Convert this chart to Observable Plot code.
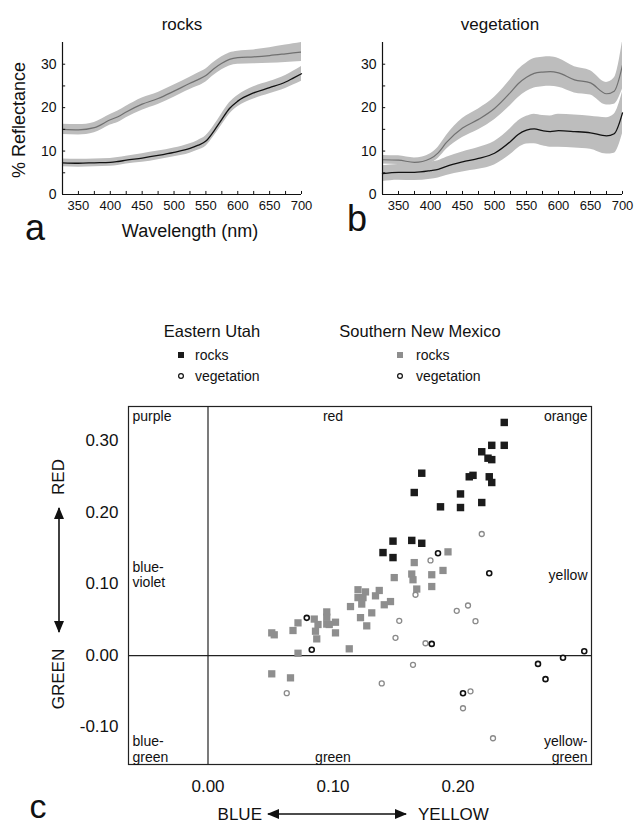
<!DOCTYPE html>
<html>
<head>
<meta charset="utf-8">
<script src="https://cdn.jsdelivr.net/npm/d3@7"></script>
<script src="https://cdn.jsdelivr.net/npm/@observablehq/plot@0.6"></script>
<style>
  html, body { margin: 0; padding: 0; background: #fff; }
  #root { position: relative; width: 634px; height: 824px; overflow: hidden; background: #fff; }
</style>
</head>
<body>
<div id="root"></div>
<script>
// ---------------- DATA ----------------
// Spectral panels (a: rocks, b: vegetation) – mean reflectance and band half-width
const wavelengths = [325,350,375,400,412,425,450,475,500,525,537,550,562,575,587,600,625,650,675,687,700];
const rocksBrightMean = [15.0,14.9,15.4,17.2,17.9,19.0,20.8,22.1,23.8,25.6,26.4,27.4,28.9,30.2,31.1,31.5,31.7,32.0,32.4,32.6,32.8];
const rocksBrightSd   = [1.2,1.2,1.2,1.2,1.3,1.3,1.4,1.4,1.4,1.4,1.5,1.5,1.5,1.5,1.5,1.5,1.6,1.8,2.0,2.1,2.2];
const rocksDarkMean   = [7.3,7.2,7.3,7.4,7.6,7.9,8.4,9.0,9.7,10.6,11.3,12.3,14.5,17.3,19.8,21.5,23.4,24.6,25.9,26.8,27.8];
const rocksDarkSd     = [0.9,0.9,0.9,0.9,0.9,0.9,1.0,1.0,1.0,1.1,1.1,1.2,1.2,1.3,1.3,1.3,1.4,1.4,1.5,1.6,1.7];
const vegBrightMean   = [8.0,7.9,7.4,8.3,9.6,12.0,15.3,17.3,19.8,23.5,25.5,27.0,27.9,28.2,28.3,28.0,26.4,25.7,23.2,23.8,29.8];
const vegBrightSd     = [1.0,1.0,1.0,1.1,1.3,1.6,2.2,2.4,2.6,3.0,3.2,3.3,3.4,3.4,3.4,3.3,3.0,2.8,2.6,3.0,5.5];
const vegDarkMean     = [4.8,5.1,5.1,5.5,5.8,6.5,7.5,8.3,9.5,12.2,13.8,14.8,15.1,14.7,14.5,14.7,14.5,14.2,13.5,14.0,18.8];
const vegDarkSd       = [1.8,1.8,1.9,2.0,2.0,2.1,2.3,2.5,2.7,3.0,3.1,3.2,3.4,3.5,3.6,3.8,3.8,3.8,4.2,4.5,4.8];
const spectrumXTicks = [350,400,450,500,550,600,650,700];
const spectrumYTicks = [0,10,20,30];
const spectrumMinorX = [325,350,375,400,425,450,475,500,525,550,575,600,625,650,675,700];
const spectrumMinorY = [5,10,15,20,25,30];

// Scatter panel c – [blue/yellow, red/green]
const utahRocks = [
  [0.237,0.326],[0.227,0.294],[0.237,0.294],[0.219,0.285],[0.224,0.276],[0.227,0.274],
  [0.209,0.250],[0.212,0.252],[0.225,0.250],[0.227,0.242],[0.202,0.226],[0.186,0.208],
  [0.202,0.207],[0.219,0.214],[0.171,0.255],[0.165,0.228],[0.148,0.160],[0.163,0.161],
  [0.171,0.157],[0.140,0.144],[0.148,0.137]
];
const utahVegetation = [
  [0.079,0.0527],[0.083,0.008],[0.184,0.143],[0.225,0.115],[0.179,0.0163],
  [0.301,0.006],[0.284,-0.003],[0.264,-0.0117],[0.270,-0.033],[0.204,-0.0527]
];
const newMexicoRocks = [
  [0.192,0.145],[0.165,0.130],[0.149,0.109],[0.163,0.114],[0.164,0.106],[0.179,0.113],
  [0.188,0.119],[0.167,0.093],[0.179,0.0965],[0.120,0.092],[0.126,0.089],[0.137,0.091],
  [0.134,0.0835],[0.120,0.081],[0.124,0.081],[0.123,0.072],[0.146,0.0755],[0.141,0.071],
  [0.114,0.0685],[0.131,0.0597],[0.122,0.053],[0.127,0.0415],[0.095,0.061],[0.095,0.0536],
  [0.085,0.051],[0.088,0.0434],[0.097,0.0434],[0.102,0.0466],[0.086,0.034],[0.102,0.0317],
  [0.087,0.0233],[0.113,0.0094],[0.051,0.0317],[0.053,0.029],[0.068,0.035],[0.072,0.0457],
  [0.095,0.044],[0.072,0.0032],[0.051,-0.0256],[0.066,-0.0312]
];
const newMexicoVegetation = [
  [0.219,0.170],[0.178,0.133],[0.166,0.085],[0.199,0.0625],[0.208,0.070],[0.214,0.048],
  [0.153,0.0485],[0.150,0.0248],[0.174,0.0172],[0.164,-0.013],[0.063,-0.0527],
  [0.139,-0.039],[0.210,-0.050],[0.204,-0.0737],[0.228,-0.1157]
];
const scatterXTicks = [0, 0.1, 0.2];
const scatterYTicks = [-0.1, 0, 0.1, 0.2, 0.3];
const quadrantLabels = [
  {text: "purple", anchor: "top-left"},
  {text: "red", anchor: "top", x: 0.1},
  {text: "orange", anchor: "top-right"},
  {text: "blue-\nviolet", anchor: "left"},
  {text: "yellow", anchor: "right"},
  {text: "blue-\ngreen", anchor: "bottom-left"},
  {text: "green", anchor: "bottom", x: 0.1},
  {text: "yellow-\ngreen", anchor: "bottom-right"}
];

// ---------------- RENDER ----------------
const FONT = '"Liberation Sans", Arial, Helvetica, sans-serif';
const root = document.getElementById("root");

function place(svg, left, top) {
  svg.style.position = "absolute";
  svg.style.left = left + "px";
  svg.style.top = top + "px";
  svg.style.maxWidth = "none";
  root.appendChild(svg);
}

function addText(txt, x, y, size, opts = {}) {
  const {anchor = "middle", rotate = 0} = opts;
  const d = document.createElement("div");
  d.textContent = txt;
  d.style.cssText = `position:absolute;left:${x}px;top:${y}px;font-size:${size}px;line-height:1;white-space:nowrap;color:#111;font-family:${FONT};`;
  const tx = anchor === "start" ? "0" : anchor === "end" ? "-100%" : "-50%";
  d.style.transform = `translate(${tx},-50%)` + (rotate ? ` rotate(${rotate}deg)` : "");
  root.appendChild(d);
  return d;
}

function rows(mean, sd) {
  return wavelengths.map((w, i) => ({w, m: mean[i], lo: mean[i] - sd[i], hi: mean[i] + sd[i]}));
}

function spectrum(bMean, bSd, dMean, dSd, width, marginRight) {
  const bright = rows(bMean, bSd);
  const dark = rows(dMean, dSd);
  return Plot.plot({
    width, height: 250,
    marginLeft: 62, marginRight, marginTop: 42, marginBottom: 56,
    x: {domain: [325, 700]},
    y: {domain: [0, 35]},
    style: {fontFamily: FONT, fontSize: "13px", color: "#111", background: "transparent", overflow: "visible"},
    marks: [
      Plot.areaY(bright, {x: "w", y1: "lo", y2: "hi", fill: "#bdbdbd", curve: "monotone-x", clip: true}),
      Plot.areaY(dark, {x: "w", y1: "lo", y2: "hi", fill: "#bdbdbd", curve: "monotone-x", clip: true}),
      Plot.lineY(bright, {x: "w", y: "m", stroke: "#707070", strokeWidth: 1.2, curve: "monotone-x", clip: true}),
      Plot.lineY(dark, {x: "w", y: "m", stroke: "#111", strokeWidth: 1.3, curve: "monotone-x"}),
      Plot.ruleY([0], {stroke: "#111", strokeWidth: 1.2}),
      Plot.ruleX([325], {stroke: "#111", strokeWidth: 1.2}),
      Plot.ruleX(spectrumMinorX, {x: d => d, y1: 0, y2: 0.7, stroke: "#111"}),
      Plot.ruleY(spectrumMinorY, {y: d => d, x1: 325, x2: 330, stroke: "#111"}),
      Plot.axisX(spectrumXTicks, {tickSize: 0, tickPadding: 6, label: null, fontSize: 13}),
      Plot.axisY(spectrumYTicks, {tickSize: 0, tickPadding: 6, label: null, fontSize: 14})
    ]
  });
}

// Panel a
place(spectrum(rocksBrightMean, rocksBrightSd, rocksDarkMean, rocksDarkSd, 320, 19), 0, 0);
// Panel b
place(spectrum(vegBrightMean, vegBrightSd, vegDarkMean, vegDarkSd, 314, 12), 320, 0);

addText("rocks", 182, 24, 17);
addText("vegetation", 500, 24, 17);
addText("% Reflectance", 19, 120, 18, {rotate: -90});
addText("Wavelength (nm)", 190, 231, 18);
addText("a", 35, 228, 36);
addText("b", 357, 219, 36);

// Panel c scatter
const quadMarks = quadrantLabels.map(q => {
  const pad = 4;
  const opts = {frameAnchor: q.anchor, text: d => d.text, fontSize: 14, lineHeight: 1.12, fill: "#111"};
  if (q.x !== undefined) opts.x = d => d.x;
  if (q.anchor.includes("left")) opts.dx = pad;
  if (q.anchor.includes("right")) opts.dx = -pad;
  if (q.anchor.startsWith("top")) opts.dy = 3;
  if (q.anchor.startsWith("bottom")) opts.dy = -3;
  if (q.anchor === "left" || q.anchor === "right") opts.dy = -11;
  return Plot.text([q], opts);
});

const scatter = Plot.plot({
  width: 634, height: 444,
  marginLeft: 128, marginRight: 43, marginTop: 26, marginBottom: 60,
  x: {domain: [-0.0636, 0.3068]},
  y: {domain: [-0.1524, 0.3483]},
  style: {fontFamily: FONT, fontSize: "17px", color: "#111", background: "transparent", overflow: "visible"},
  marks: [
    Plot.frame({stroke: "#222", strokeWidth: 1.2}),
    Plot.ruleX([0], {stroke: "#222", strokeWidth: 1.2}),
    Plot.ruleY([0], {stroke: "#222", strokeWidth: 1.2}),
    Plot.dot(newMexicoRocks, {x: d => d[0], y: d => d[1], symbol: "square", r: 4.1, fill: "#8e8e8e"}),
    Plot.dot(utahRocks, {x: d => d[0], y: d => d[1], symbol: "square", r: 4.2, fill: "#1b1b1b"}),
    Plot.dot(newMexicoVegetation, {x: d => d[0], y: d => d[1], r: 2.5, stroke: "#8a8a8a", strokeWidth: 1.3, fill: "white"}),
    Plot.dot(utahVegetation, {x: d => d[0], y: d => d[1], r: 2.5, stroke: "#111", strokeWidth: 1.6, fill: "white"}),
    ...quadMarks,
    Plot.axisX(scatterXTicks, {tickSize: 0, tickPadding: 15, tickFormat: d => d.toFixed(2), label: null, fontSize: 17}),
    Plot.axisY(scatterYTicks, {tickSize: 0, tickPadding: 10, tickFormat: d => d.toFixed(2), label: null, fontSize: 17})
  ]
});
place(scatter, 0, 380);

// Legend
addText("Eastern Utah", 212, 331, 16.5);
addText("Southern New Mexico", 420, 331, 16.5);
addText("rocks", 195, 355, 14, {anchor: "start"});
addText("vegetation", 195, 376, 14, {anchor: "start"});
addText("rocks", 416, 355, 14, {anchor: "start"});
addText("vegetation", 416, 376, 14, {anchor: "start"});

// Axis direction labels for scatter
addText("RED", 58, 477, 17, {rotate: -90});
addText("GREEN", 58, 679, 17, {rotate: -90});
addText("BLUE", 262, 814, 17, {anchor: "end"});
addText("YELLOW", 418, 814, 17, {anchor: "start"});
addText("c", 38, 806, 34);

// Overlay: legend glyphs and arrows
const ns = "http://www.w3.org/2000/svg";
const ov = document.createElementNS(ns, "svg");
ov.setAttribute("width", 634);
ov.setAttribute("height", 824);
ov.style.cssText = "position:absolute;left:0;top:0;pointer-events:none;";
ov.innerHTML = `
  <defs>
    <marker id="ah" viewBox="0 0 12 10" refX="11" refY="5" markerWidth="12" markerHeight="10" markerUnits="userSpaceOnUse" orient="auto-start-reverse">
      <path d="M0,0 L12,5 L0,10 Z" fill="#111"/>
    </marker>
  </defs>
  <rect x="178" y="352" width="6" height="6" fill="#1b1b1b"/>
  <circle cx="181" cy="376" r="2.4" fill="none" stroke="#111" stroke-width="1.2"/>
  <rect x="397" y="352" width="6" height="6" fill="#8e8e8e"/>
  <circle cx="400" cy="376" r="2.4" fill="none" stroke="#111" stroke-width="1.2"/>
  <line x1="59" y1="508" x2="59" y2="632" stroke="#111" stroke-width="1.6" marker-start="url(#ah)" marker-end="url(#ah)"/>
  <line x1="268" y1="814" x2="406" y2="814" stroke="#111" stroke-width="1.6" marker-start="url(#ah)" marker-end="url(#ah)"/>
`;
root.appendChild(ov);
</script>
</body>
</html>
